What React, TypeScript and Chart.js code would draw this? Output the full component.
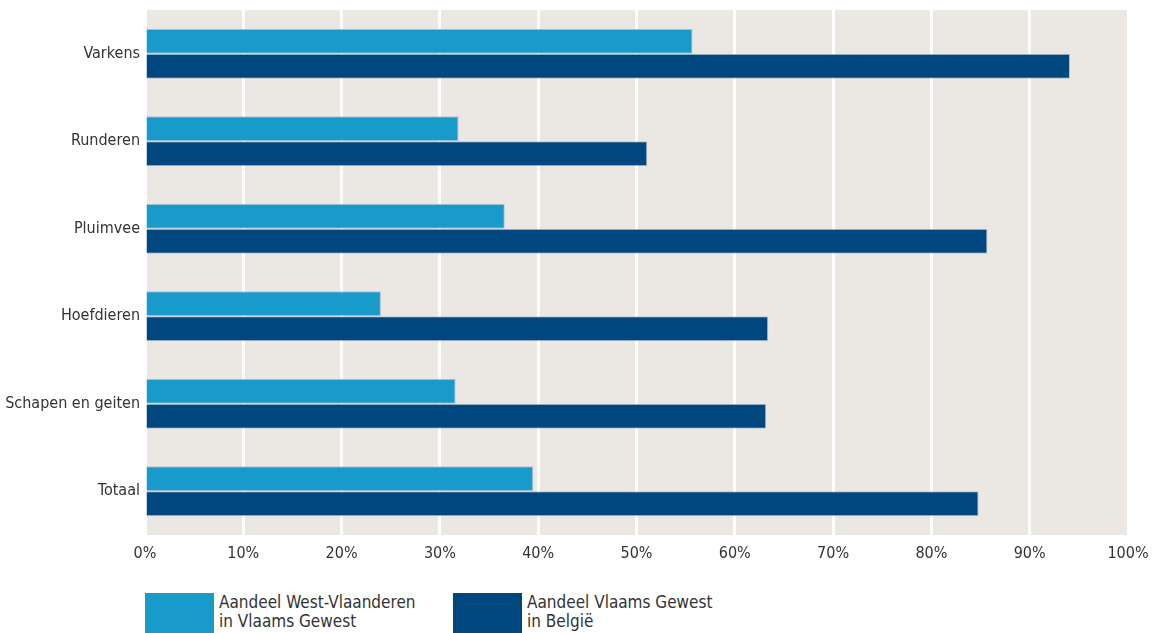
import React, { useEffect, useRef } from "react";
import { Chart, registerables } from "chart.js";

Chart.register(...registerables);

const categories = ["Varkens", "Runderen", "Pluimvee", "Hoefdieren", "Schapen en geiten", "Totaal"];
const westVlaanderen = [55.7, 31.9, 36.6, 24.0, 31.6, 39.5];
const vlaamsGewest = [94.1, 51.1, 85.7, 63.4, 63.2, 84.8];
const legendLabels = [
  ["Aandeel West-Vlaanderen", "in Vlaams Gewest"],
  ["Aandeel Vlaams Gewest", "in België"],
];

const LIGHT = "#189bcb";
const DARK = "#00467f";
const BG = "#ebe8e4";
const FONT = "'Liberation Sans Narrow', 'DejaVu Sans Condensed', sans-serif";

const bgPlugin = {
  id: "plotBg",
  beforeDraw(chart: any) {
    const { ctx, chartArea } = chart;
    ctx.save();
    ctx.fillStyle = BG;
    ctx.fillRect(chartArea.left, chartArea.top, chartArea.right - chartArea.left, chartArea.bottom - chartArea.top);
    ctx.restore();
  },
};

export default function App() {
  const ref = useRef<HTMLCanvasElement>(null);
  useEffect(() => {
    if (!ref.current) return;
    const chart = new Chart(ref.current, {
      type: "bar",
      data: {
        labels: categories,
        datasets: [
          {
            label: legendLabels[0].join(" "),
            data: westVlaanderen,
            backgroundColor: LIGHT,
            borderColor: "rgba(170,185,198,0.8)",
            borderWidth: 1,
            categoryPercentage: 0.57,
            barPercentage: 1,
          },
          {
            label: legendLabels[1].join(" "),
            data: vlaamsGewest,
            backgroundColor: DARK,
            borderColor: "rgba(170,185,198,0.8)",
            borderWidth: 1,
            categoryPercentage: 0.57,
            barPercentage: 1,
          },
        ],
      },
      options: {
        indexAxis: "y",
        animation: false,
        responsive: false,
        maintainAspectRatio: false,
        layout: { padding: { top: 10, right: 29, left: 0, bottom: 0 } },
        plugins: { legend: { display: false }, tooltip: { enabled: false } },
        scales: {
          x: {
            min: 0,
            max: 100,
            ticks: {
              stepSize: 10,
              callback: (v: any) => v + "%",
              color: "#333",
              font: { family: FONT, size: 16 },
              padding: 9,
            },
            grid: { color: "#ffffff", lineWidth: 3, drawTicks: false },
            border: { display: false },
            afterFit: (s: any) => {
              s.height = 40;
              s.paddingLeft = 0;
              s.paddingRight = 0;
            },
          },
          y: {
            ticks: {
              color: "#333",
              font: { family: FONT, size: 16 },
              padding: 5,
            },
            grid: { display: false, drawTicks: false },
            border: { display: false },
            afterFit: (s: any) => {
              s.width = 145;
              s.paddingTop = 0;
              s.paddingBottom = 0;
            },
          },
        },
      },
      plugins: [bgPlugin],
    });
    return () => chart.destroy();
  }, []);

  const colors = [LIGHT, DARK];
  const lefts = [145, 453];
  return (
    <div style={{ position: "fixed", left: 0, top: 0, width: 1157, height: 633, background: "#fff", overflow: "hidden" }}>
      <canvas ref={ref} width={1157} height={575} style={{ display: "block", width: 1157, height: 575 }} />
      {legendLabels.map((lines, i) => (
        <div key={i} style={{ position: "absolute", left: lefts[i], top: 593, display: "flex", alignItems: "flex-start" }}>
          <div style={{ width: 69, height: 40, background: colors[i] }} />
          <div style={{ marginLeft: 5, marginTop: 0, fontFamily: FONT, fontSize: 17, lineHeight: "19px", color: "#333" }}>
            {lines.map((l, j) => (
              <div key={j}>{l}</div>
            ))}
          </div>
        </div>
      ))}
    </div>
  );
}
